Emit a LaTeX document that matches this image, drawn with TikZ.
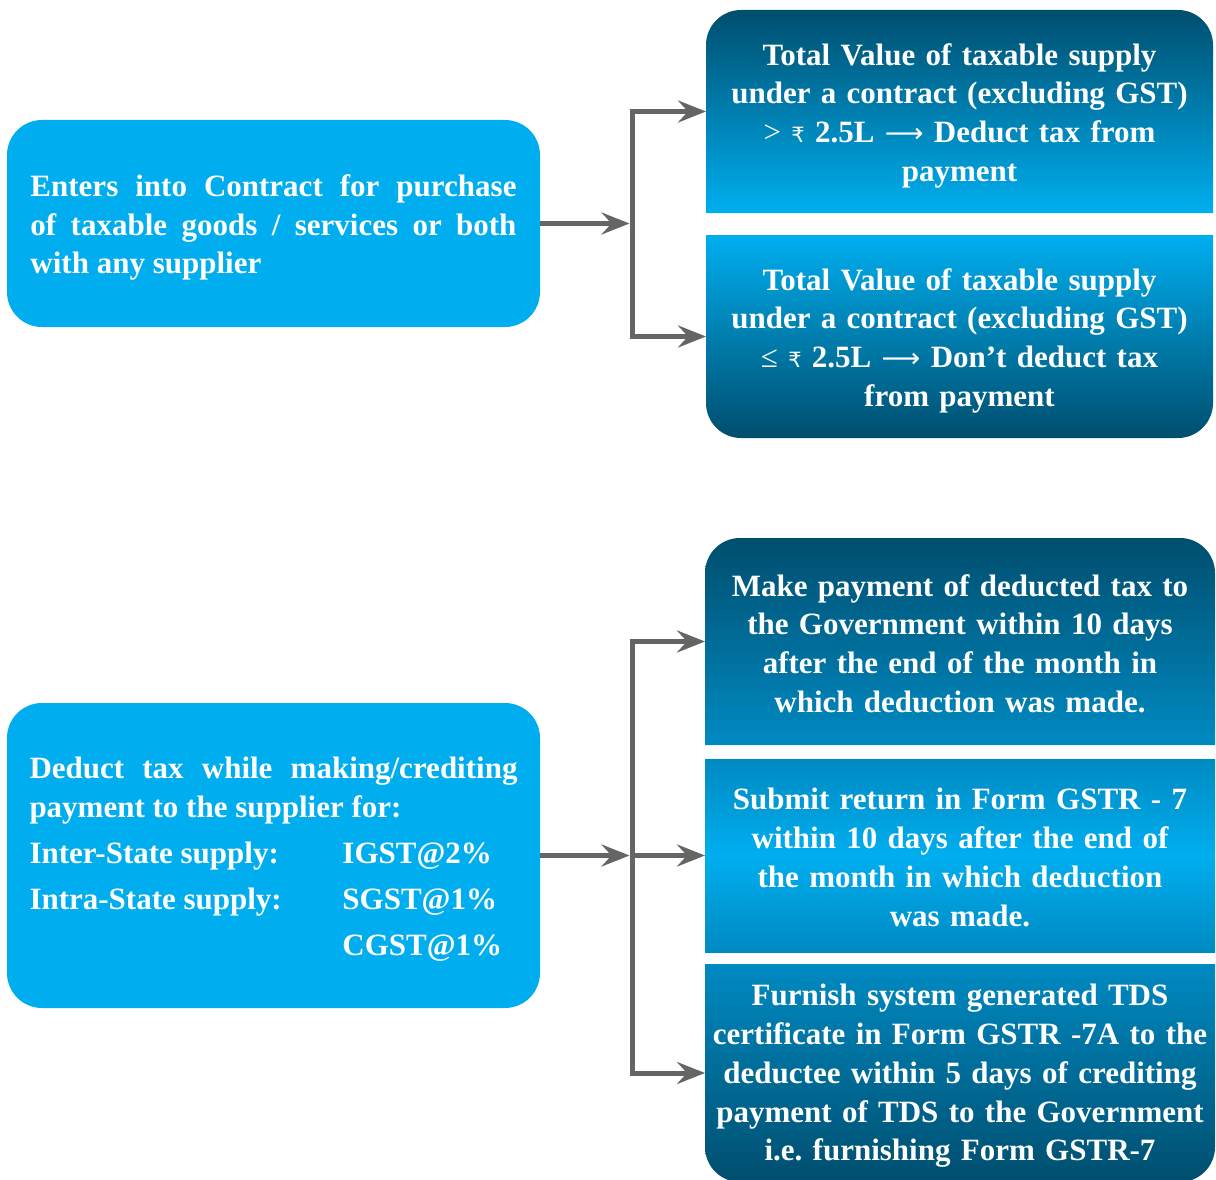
\documentclass[tikz,border=0pt]{standalone}
\usepackage{fontspec}
\setmainfont{Liberation Serif}
\newfontfamily\dvsfont{DejaVu Sans}
\usetikzlibrary{arrows.meta}
\definecolor{cyanL}{HTML}{00AEEF}
\definecolor{darkB}{HTML}{004E6E}
\definecolor{midB}{HTML}{008AC2}
\definecolor{connC}{HTML}{656565}
\setlength{\parindent}{0pt}
\hyphenpenalty=10000
\frenchspacing
\newcommand{\rup}{{\dvsfont\mdseries\fontsize{21}{21}\selectfont ₹}}
\newcommand{\larr}{{\dvsfont\mdseries\fontsize{27}{27}\selectfont ⟶}}
% top-rounded box: x1 y1 x2 y2 options
\newcommand{\topbox}[5]{\path[#5] (#1,#4) -- (#1,#2+35) arc[start angle=180,end angle=270,radius=35] -- (#3-35,#2) arc[start angle=270,end angle=360,radius=35] -- (#3,#4) -- cycle;}
% bottom-rounded box
\newcommand{\botbox}[5]{\path[#5] (#1,#2) -- (#3,#2) -- (#3,#4-35) arc[start angle=0,end angle=90,radius=35] -- (#1+35,#4) arc[start angle=90,end angle=180,radius=35] -- cycle;}
\begin{document}
\begin{tikzpicture}[x=1pt,y=-1pt,
  boxn/.style={inner sep=0pt, outer sep=0pt, draw=none},
  txt/.style={text=white, font=\fontsize{31}{38.7}\selectfont\bfseries, inner sep=0pt, outer sep=0pt, yshift=-4pt},
  arr/.style={draw=connC, line width=5pt, -{Stealth[length=28pt,width=22pt,inset=10pt]}},
  jarr/.style={arr, shorten >=2.5pt}]
\useasboundingbox (0,0) rectangle (1216,1180);
\fill[white] (0,0) rectangle (1216,1180);
% shapes
\fill[cyanL, rounded corners=35pt] (7,120) rectangle (540,327);
\fill[cyanL, rounded corners=35pt] (7,703) rectangle (540,1008);
\topbox{706}{10}{1213}{213}{top color=darkB, bottom color=cyanL}
\botbox{706}{235}{1213}{438}{top color=cyanL, bottom color=darkB}
\topbox{705}{538}{1215}{745}{top color=darkB, bottom color=midB}
\path[top color=midB, bottom color=midB, middle color=cyanL] (705,759) rectangle (1215,952);
\botbox{705}{964}{1215}{1182}{top color=midB, bottom color=darkB}
% box anchor nodes
\node[boxn, minimum width=533pt, minimum height=207pt] (A) at (273.5,223.5) {};
\node[boxn, minimum width=507pt, minimum height=203pt] (R1) at (959.5,111.5) {};
\node[boxn, minimum width=507pt, minimum height=203pt] (R2) at (959.5,336.5) {};
\node[boxn, minimum width=533pt, minimum height=305pt] (B) at (273.5,855.5) {};
\node[boxn, minimum width=510pt, minimum height=207pt] (R3) at (960,641.5) {};
\node[boxn, minimum width=510pt, minimum height=193pt] (R4) at (960,855.5) {};
\node[boxn, minimum width=510pt, minimum height=218pt] (R5) at (960,1073) {};
% texts
\node[txt, text width=486pt, align=justify] (At) at (A.center)
 {Enters into Contract for purchase\linebreak of taxable goods / services or both\linebreak with any supplier};
\node[txt, text width=495pt, align=center] (R1t) at (R1.center)
 {Total Value of taxable supply\\under a contract (excluding GST)\\{\mdseries >} \rup\ 2.5L \larr\ Deduct tax from\\payment};
\node[txt, text width=495pt, align=center] (R2t) at (R2.center)
 {Total Value of taxable supply\\under a contract (excluding GST)\\{\mdseries ≤} \rup\ 2.5L \larr\ Don’t deduct tax\\from payment};
\node[txt, text width=488pt, align=justify] (Bt) at (B.center)
 {Deduct tax while making/crediting\linebreak payment to the supplier for:\par\vspace{7.3pt}
 \makebox[313pt][l]{Inter-State supply:}IGST@2\%\par\vspace{7.3pt}
 \makebox[313pt][l]{Intra-State supply:}SGST@1\%\par\vspace{7.3pt}
 \hspace*{313pt}CGST@1\%};
\node[txt, text width=500pt, align=center] (R3t) at ([yshift=2pt]R3.center)
 {Make payment of deducted tax to\\the Government within 10 days\\after the end of the month in\\which deduction was made.};
\node[txt, text width=500pt, align=center] (R4t) at ([yshift=2pt]R4.center)
 {Submit return in Form GSTR - 7\\within 10 days after the end of\\the month in which deduction\\was made.};
\node[txt, text width=500pt, align=center] (R5t) at ([yshift=1pt]R5.center)
 {Furnish system generated TDS\\certificate in Form GSTR -7A to the\\deductee within 5 days of crediting\\payment of TDS to the Government\\i.e. furnishing Form GSTR-7};
% connectors
\coordinate (J1) at (632,223.5);
\coordinate (J2) at (632,855.5);
\draw[jarr] (A.east) -- (J1);
\draw[arr] (J1) |- (R1.west);
\draw[arr] (J1) |- (R2.west);
\draw[jarr] (B.east) -- (J2);
\draw[arr] (J2) |- (R3.west);
\draw[arr] (J2) -- (R4.west);
\draw[arr] (J2) |- (R5.west);
\end{tikzpicture}
\end{document}
